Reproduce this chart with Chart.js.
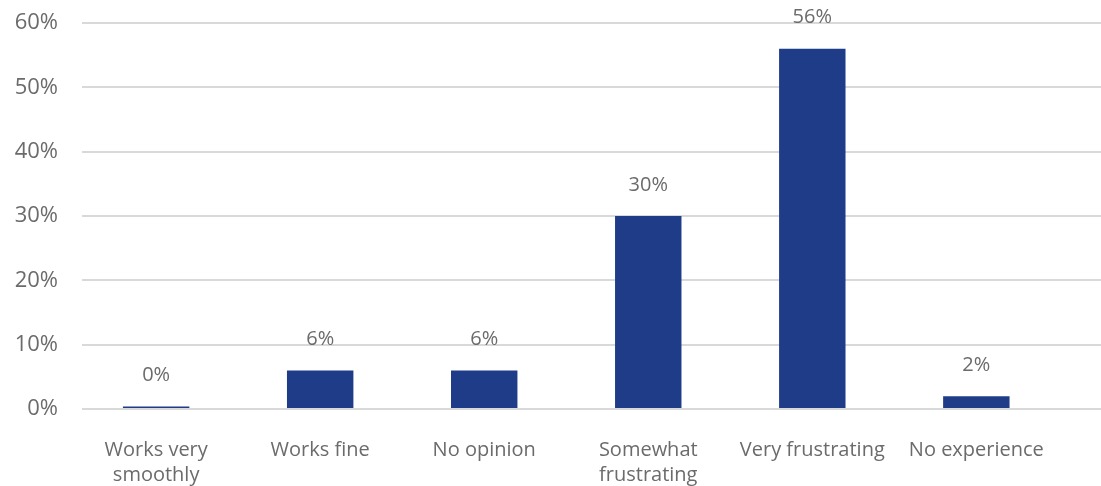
<!DOCTYPE html>
<html>
<head>
<meta charset="utf-8">
<script src="https://cdn.jsdelivr.net/npm/chart.js@4"></script>
<style>
    html, body { margin: 0; padding: 0; background: #fff; }
    #wrap { width: 1101px; height: 486px; }
</style>
</head>
<body>
<div id="wrap"><canvas id="chart"></canvas></div>
<script>
const categories = [
    ['Works very', 'smoothly'],
    'Works fine',
    'No opinion',
    ['Somewhat', 'frustrating'],
    'Very frustrating',
    'No experience'
];
const shares = [0.4, 6, 6, 30, 56, 2];
const yTicks = [0, 10, 20, 30, 40, 50, 60];

const textColor = '#6b6b6b';
const fontFamily = '"Open Sans", "DejaVu Sans", sans-serif';

// values drawn above each bar
const barLabels = {
    id: 'barLabels',
    afterDatasetsDraw(chart) {
        const ctx = chart.ctx;
        ctx.save();
        ctx.fillStyle = textColor;
        ctx.font = '20px ' + fontFamily;
        ctx.textAlign = 'center';
        ctx.textBaseline = 'middle';
        chart.getDatasetMeta(0).data.forEach((bar, i) => {
            ctx.fillText(Math.round(shares[i]) + '%', bar.x, bar.y - 31);
        });
        ctx.restore();
    }
};

new Chart(document.getElementById('chart'), {
    type: 'bar',
    data: {
        datasets: [{
            data: shares.map((v, i) => ({ x: i, y: v })),
            backgroundColor: '#1f3c88',
            categoryPercentage: 1,
            barPercentage: 0.405
        }]
    },
    options: {
        responsive: true,
        maintainAspectRatio: false,
        animation: false,
        layout: { padding: { top: 23, right: 0, left: 0, bottom: 0 } },
        plugins: { legend: { display: false }, tooltip: { enabled: false } },
        scales: {
            x: {
                type: 'linear',
                offset: false,
                bounds: 'data',
                min: -0.452,
                max: 5.76,
                afterBuildTicks: s => { s.ticks = categories.map((c, i) => ({ value: i })); },
                grid: { display: false, drawTicks: false, offset: false },
                border: { display: false },
                ticks: {
                    color: textColor,
                    font: { family: fontFamily, size: 20, lineHeight: 1.25 },
                    padding: 29,
                    maxRotation: 0,
                    autoSkip: false,
                    callback: v => categories[v]
                },
                afterFit: s => { s.height = 77; }
            },
            y: {
                min: 0,
                max: 60,
                afterBuildTicks: s => { s.ticks = yTicks.map(v => ({ value: v })); },
                grid: { color: '#d9d9d9', lineWidth: 2, drawTicks: false },
                border: { display: false },
                ticks: {
                    color: textColor,
                    font: { family: fontFamily, size: 22 },
                    padding: 24,
                    callback: v => v + '%'
                },
                afterFit: s => {
                    s.width = 82;
                    s.paddingTop = 0;
                    s.paddingBottom = 0;
                }
            }
        }
    },
    plugins: [barLabels]
});
</script>
</body>
</html>
